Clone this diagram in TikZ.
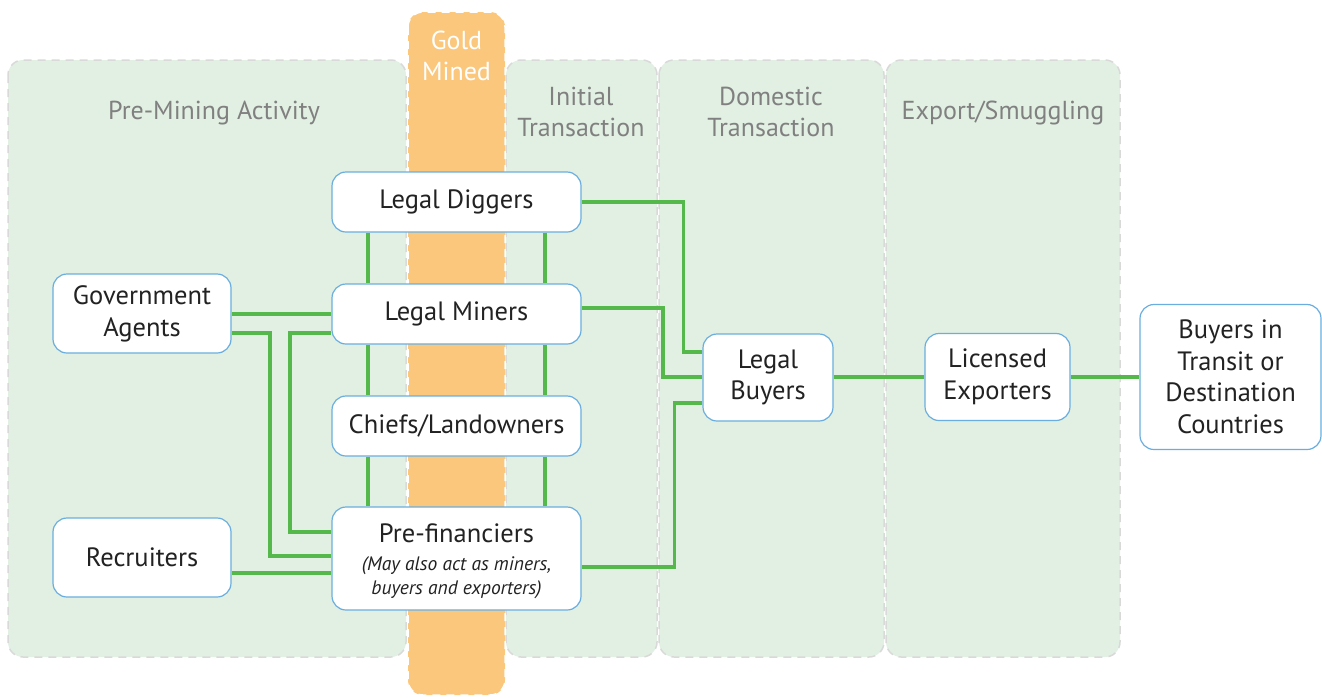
\documentclass[tikz,border=0pt]{standalone}
\usepackage{fontspec}
\setmainfont{PT Sans}
\usetikzlibrary{positioning}
\pgfdeclarelayer{bg}
\pgfdeclarelayer{lines}
\pgfsetlayers{bg,lines,main}
\definecolor{lanefill}{HTML}{E2F0E3}
\definecolor{laneedge}{HTML}{D9D9D9}
\definecolor{gold}{HTML}{FBC77C}
\definecolor{boxedge}{HTML}{6AAEE0}
\definecolor{conncol}{HTML}{55B84A}
\definecolor{titlecol}{HTML}{808080}
\definecolor{txt}{HTML}{222222}
\tikzset{
  lane/.style={fill=lanefill,draw=laneedge,line width=1.5pt,dash pattern=on 8pt off 6pt,rounded corners=15pt},
  goldlane/.style={fill=gold,draw=white,line width=1.5pt,dash pattern=on 8pt off 6pt,rounded corners=15pt},
  lanetitle/.style={text=titlecol,align=center,font=\fontsize{26}{30.5}\selectfont},
  box/.style={draw=boxedge,fill=white,line width=1.2pt,rounded corners=14pt,align=center,text=txt,
     font=\fontsize{26.5}{31.5}\selectfont,inner sep=0pt},
  conn/.style={draw=conncol,line width=3.8pt}
}
\newcommand{\smallit}{\fontsize{19.5}{23}\selectfont\itshape}
\begin{document}
\begin{tikzpicture}[x=1pt,y=-1pt]
\useasboundingbox (0,0) rectangle (1322,697);
% boxes
\node[box,minimum width=249pt,minimum height=60pt] (dig) at (456.5,202) {Legal Diggers};
\node[box,minimum width=249pt,minimum height=60pt] (min) at (456.5,314) {Legal Miners};
\node[box,minimum width=249pt,minimum height=60pt] (chf) at (456.5,426) {Chiefs/Landowners};
\node[box,minimum width=249pt,minimum height=103pt] (pf) at (456.5,558.5) {\rule{0pt}{0pt}\\[-8pt]Pre-financiers\\[-3pt]\smallit (May also act as miners,\\[-8pt] \smallit buyers and exporters)};
\node[box,minimum width=178pt,minimum height=79pt] (gov) at (142,313.5) {Government\\[0.5pt]Agents};
\node[box,minimum width=178pt,minimum height=79pt] (rec) at (142,557.5) {Recruiters};
\node[box,minimum width=130pt,minimum height=87pt] (lb) at (768,377.5) {Legal\\Buyers};
\node[box,minimum width=145pt,minimum height=87pt] (le) at (997.5,377) {Licensed\\Exporters};
\node[box,minimum width=181pt,minimum height=145pt] (bt) at (1230.5,377) {Buyers in\\Transit or\\Destination\\Countries};
\begin{pgfonlayer}{bg}
\draw[lane] (8,60) rectangle (406,657);
\draw[lane] (506,60) rectangle (657,657);
\draw[lane] (659,60) rectangle (884,657);
\draw[lane] (886,60) rectangle (1120,657);
\draw[goldlane] (408,12) rectangle (505,695);
\node[lanetitle] (t1) at (214,113) {Pre-Mining Activity};
\node[lanetitle,text=white] (t0) at (456.5,56) {Gold\\Mined};
\node[lanetitle] (t2) at (581,112) {Initial\\Transaction};
\node[lanetitle] (t3) at (771,112) {Domestic\\Transaction};
\node[lanetitle] (t4) at (1003,113) {Export/Smuggling};
\end{pgfonlayer}
\begin{pgfonlayer}{lines}
\foreach \s in {-88.5,88.5}{
  \draw[conn] ([xshift=\s pt]dig.south) -- ([xshift=\s pt]min.north);
  \draw[conn] ([xshift=\s pt]min.south) -- ([xshift=\s pt]chf.north);
  \draw[conn] ([xshift=\s pt]chf.south) -- ([xshift=\s pt]pf.north);
}
\draw[conn] (min.west -| gov.east) -- (min.west);
\draw[conn] ([yshift=-19.5pt]gov.east) -| (270,556) -- ([yshift=2.5pt]pf.west);
\draw[conn] ([yshift=-19pt]min.west) -| (290,532) -- ([yshift=26.5pt]pf.west);
\draw[conn] ([yshift=-15.5pt]rec.east) -- ([yshift=-15.5pt]rec.east -| pf.west);
\draw[conn] (dig.east) -| (683.5,352) -- ([yshift=25.5pt]lb.west);
\draw[conn] ([yshift=6pt]min.east) -| (663,377) -- (lb.west |- 0,377);
\draw[conn] ([yshift=-8.5pt]pf.east) -| (674.5,403) -- ([yshift=-25.5pt]lb.west);
\draw[conn] (lb.east |- le.west) -- (le.west);
\draw[conn] (le.east) -- (bt.west);
\end{pgfonlayer}
\end{tikzpicture}
\end{document}
